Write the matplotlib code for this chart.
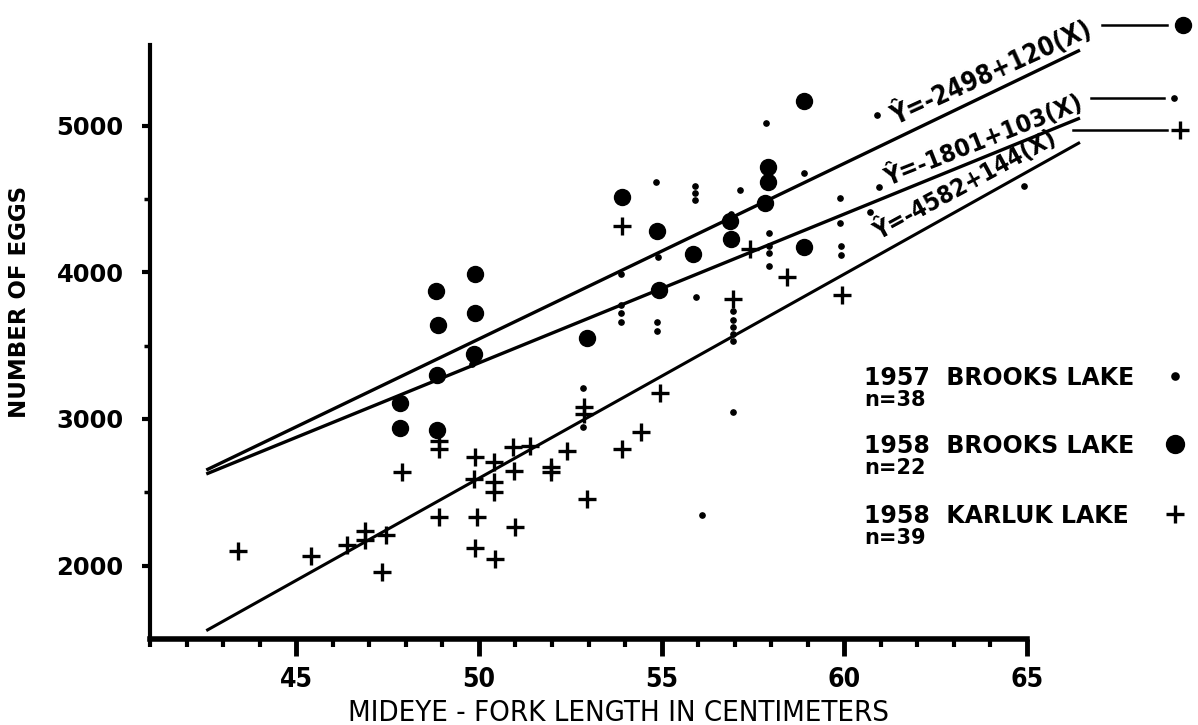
import numpy as np
import matplotlib.pyplot as plt
from matplotlib.ticker import MultipleLocator, FixedLocator

# 1957 Brooks Lake, n=38 (small dots)
b57_x = [60.89, 57.86, 58.91, 54.84, 55.91, 55.91, 55.91, 57.14, 59.89, 60.94,
         59.88, 59.90, 59.90, 60.71, 64.92, 57.93, 57.93, 57.93, 57.93, 55.93,
         54.88, 54.88, 53.88, 53.88, 53.88, 53.88, 54.90, 56.95, 56.95, 56.95,
         56.95, 56.95, 56.95, 52.86, 52.86, 56.90, 49.80, 56.10]
b57_y = [5074, 5017, 4675, 4613, 4590, 4541, 4495, 4561, 4508, 4579,
         4333, 4181, 4120, 4408, 4590, 4268, 4177, 4130, 4045, 3829,
         3658, 3597, 3722, 3663, 3779, 3988, 4105, 3733, 3677, 3629,
         3580, 3534, 3045, 3208, 2947, 4398, 3375, 2348]

# 1958 Brooks Lake, n=22 (large dots)
b58_x = [48.84, 49.90, 49.90, 48.87, 49.87, 48.85, 47.85, 47.85, 48.85, 52.97,
         54.93, 55.86, 58.89, 58.89, 57.91, 57.91, 57.84, 53.91, 54.88, 56.86,
         56.90]
b58_y = [3875, 3988, 3720, 3643, 3443, 3300, 3106, 2936, 2927, 3552,
         3879, 4122, 4175, 5165, 4715, 4613, 4470, 4515, 4284, 4347,
         4227]

# 1958 Karluk Lake, n=39 (plus)
kar_x = [43.41, 45.41, 46.39, 46.89, 46.89, 47.46, 47.35, 47.90, 48.92, 48.92,
         48.92, 49.89, 49.86, 49.95, 49.89, 50.42, 50.42, 50.42, 50.44, 50.94,
         51.39, 50.95, 51.97, 51.97, 52.40, 53.93, 52.95, 50.99, 52.88, 52.88,
         54.96, 54.43, 53.91, 57.43, 58.43, 59.94, 56.95]
kar_y = [2102, 2068, 2143, 2239, 2175, 2211, 1954, 2641, 2852, 2795,
         2334, 2743, 2591, 2334, 2121, 2704, 2568, 2500, 2046, 2811,
         2818, 2648, 2675, 2636, 2779, 2795, 2455, 2266, 3079, 3034,
         3175, 2909, 4318, 4158, 3970, 3847, 3818]

# fitted lines as drawn (ends)
fit_x = [42.54, 66.45]
fit58_y = [2652, 5515]
fit57_y = [2625, 5052]
fitk_y = [1557, 4886]

eq_labels = ["Ŷ=-2498+120(X)", "Ŷ=-1801+103(X)", "Ŷ=-4582+144(X)"]

narrow = dict(family='DejaVu Sans', fontstretch='condensed')

fig = plt.figure(figsize=(11.98, 7.25), dpi=100)
ax = fig.add_axes([150/1198, 86/725, 877/1198, 594/725])

ax.plot(fit_x, fit58_y, color='black', lw=2.4, clip_on=False, solid_capstyle='butt')
ax.plot(fit_x, fit57_y, color='black', lw=2.4, clip_on=False, solid_capstyle='butt')
ax.plot(fit_x, fitk_y, color='black', lw=2.2, clip_on=False, solid_capstyle='butt')

ax.plot(b57_x, b57_y, 'o', color='black', ms=3.8, clip_on=False)
ax.plot(b58_x, b58_y, 'o', color='black', ms=11.5, clip_on=False)
ax.plot(kar_x, kar_y, '+', color='black', ms=13, mew=2.4, clip_on=False)

ax.set_xlim(41, 65)
ax.set_ylim(1500, 5550)
ax.spines['top'].set_visible(False)
ax.spines['right'].set_visible(False)
ax.spines['left'].set_linewidth(3)
ax.spines['bottom'].set_linewidth(4)

ax.xaxis.set_major_locator(FixedLocator([45, 50, 55, 60, 65]))
ax.xaxis.set_minor_locator(MultipleLocator(1))
ax.yaxis.set_major_locator(FixedLocator([2000, 3000, 4000, 5000]))
ax.yaxis.set_minor_locator(FixedLocator([2500, 3500, 4500]))
ax.tick_params(axis='x', which='major', direction='out', length=12, width=3.5, pad=8)
ax.tick_params(axis='x', which='minor', direction='out', length=6, width=3)
ax.tick_params(axis='y', which='major', direction='out', length=6, width=3, pad=13)
ax.tick_params(axis='y', which='minor', direction='out', length=4, width=2.5)

for lab in ax.get_xticklabels():
    lab.set_family('DejaVu Sans')
    lab.set_fontstretch('condensed')
    lab.set_fontweight('bold')
    lab.set_fontsize(19)
for lab in ax.get_yticklabels():
    lab.set_family('DejaVu Sans')
    lab.set_fontweight('bold')
    lab.set_fontsize(17.5)

ax.set_xlabel("MIDEYE - FORK LENGTH IN CENTIMETERS", fontsize=21, va='baseline', **narrow)
ax.xaxis.set_label_coords(0.534, -0.138)
ax.set_ylabel("NUMBER OF EGGS", family='DejaVu Sans', fontweight='bold', fontsize=16.5)
ax.yaxis.set_label_coords(-0.136, 0.567)

# equations along the lines
eq_style = dict(fontweight='bold', ha='left', va='baseline',
                rotation_mode='anchor', clip_on=False, **narrow)
ax.text(61.40, 5000, eq_labels[0], rotation=24.5, fontsize=18.5, **eq_style)
ax.text(61.20, 4590, eq_labels[1], rotation=21.5, fontsize=18, **eq_style)
ax.text(60.95, 4215, eq_labels[2], rotation=28.5, fontsize=17.5, **eq_style)

# leaders from the equations to the symbols
ax.plot([67.05, 68.83], [5686, 5686], color='black', lw=1.8, clip_on=False)
ax.plot([69.27], [5686], 'o', color='black', ms=11.5, clip_on=False)
ax.plot([66.75, 68.75], [5189, 5189], color='black', lw=1.8, clip_on=False)
ax.plot([69.02], [5189], 'o', color='black', ms=3.8, clip_on=False)
ax.plot([66.26, 68.83], [4970, 4970], color='black', lw=1.8, clip_on=False)
ax.plot([69.19], [4970], '+', color='black', ms=13, mew=2.4, clip_on=False)

# key
rows = [("1957  BROOKS LAKE", "n=38", 'o', 3.8), ("1958  BROOKS LAKE", "n=22", 'o', 11.5),
        ("1958  KARLUK LAKE", "n=39", '+', 13)]
base = [385, 453, 523]
for (t, n, m, s), b in zip(rows, base):
    fig.text(864/1198, 1 - b/725, t, fontsize=17, fontweight='bold', ha='left', va='baseline')
    fig.text(864/1198, 1 - (b + 21)/725, n, fontsize=15, fontweight='bold', ha='left', va='baseline')
    ax.plot([1175/1198], [1 - (b - 9)/725], m, color='black', ms=s, mew=2.4,
            transform=fig.transFigure, clip_on=False)

fig.savefig('out.png', dpi=100)
